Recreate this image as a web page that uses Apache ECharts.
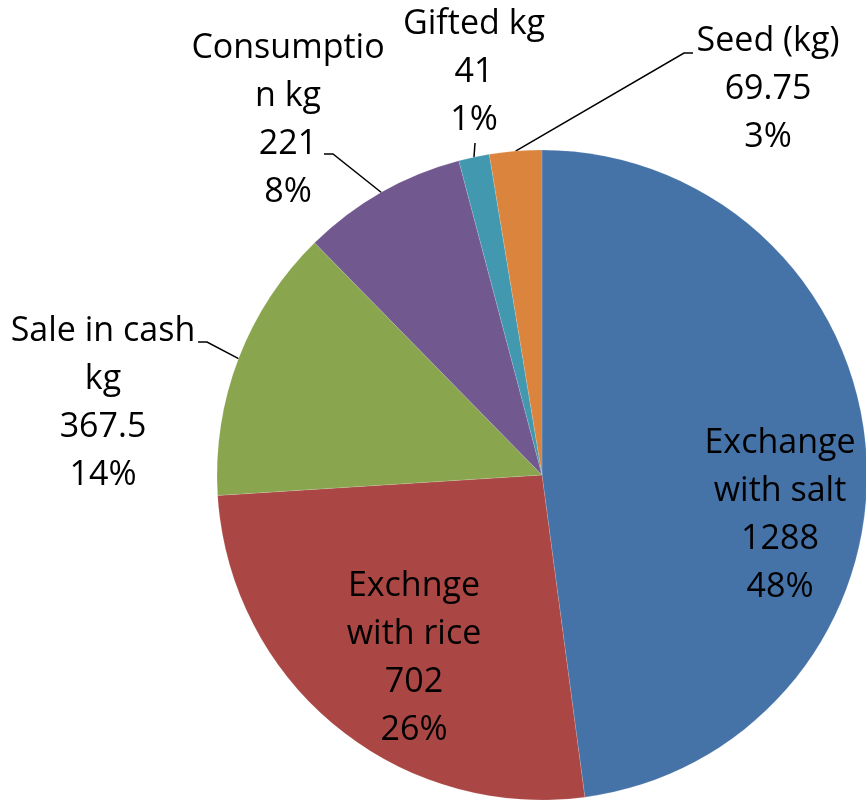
<!DOCTYPE html>
<html>
<head>
<meta charset="utf-8">
<script src="https://cdn.jsdelivr.net/npm/echarts@6/dist/echarts.min.js"></script>
<style>
html,body{margin:0;padding:0;background:#fff;}
#c{width:866px;height:801px;}
</style>
</head>
<body>
<div id="c"></div>
<script>
var categories = ['Exchange with salt', 'Exchnge with rice', 'Sale in cash kg', 'Consumption kg', 'Gifted kg', 'Seed (kg)'];
var labelNames = ['Exchange\nwith salt', 'Exchnge\nwith rice', 'Sale in cash\nkg', 'Consumptio\nn kg', 'Gifted kg', 'Seed (kg)'];
var values = [1288, 702, 367.5, 221, 41, 69.75];
var colors = ['#4572A7', '#AA4643', '#89A54E', '#71588F', '#4198AF', '#DB843D'];

// label block centres and leader-line bend/end points (layout only)
var labelSpots = [[780, 515], [414, 658], [103, 403], [288, 120], [474, 72], [768, 89]];
var leaderBends = [null, null, [[207, 342], [198, 342]], [[333, 154], [324, 154]], [[475, 143]], [[684, 53], [693, 53]]];

var chart = echarts.init(document.getElementById('c'));
var data = categories.map(function (n, i) {
  return {
    name: n,
    value: values[i],
    itemStyle: { color: colors[i] },
    labelLine: { show: i >= 2 }
  };
});
chart.setOption({
  animation: false,
  series: [{
    type: 'pie',
    center: [542, 475],
    radius: 325,
    startAngle: 90,
    clockwise: true,
    percentPrecision: 0,
    avoidLabelOverlap: false,
    data: data,
    itemStyle: { borderColor: 'rgba(255,255,255,0.25)', borderWidth: 0.5 },
    label: {
      show: true,
      position: 'outside',
      color: '#000',
      fontFamily: 'Open Sans',
      fontSize: 34,
      lineHeight: 48,
      align: 'center',
      formatter: function (p) {
        return labelNames[p.dataIndex] + '\n' + p.value + '\n' + p.percent + '%';
      }
    },
    labelLine: {
      show: true,
      length: 10,
      length2: 10,
      lineStyle: { color: '#000', width: 1.5 }
    },
    labelLayout: function (p) {
      var i = p.dataIndex;
      var s = labelSpots[i];
      var out = { x: s[0], y: s[1], align: 'center', verticalAlign: 'middle' };
      if (leaderBends[i] && p.labelLinePoints) {
        var anchor = p.labelLinePoints[0];
        var pts = [[anchor[0], anchor[1]]];
        leaderBends[i].forEach(function (q) { pts.push([q[0], q[1]]); });
        if (pts.length === 2) pts.push([pts[1][0], pts[1][1]]);
        out.labelLinePoints = pts;
      }
      return out;
    }
  }]
});
</script>
</body>
</html>
